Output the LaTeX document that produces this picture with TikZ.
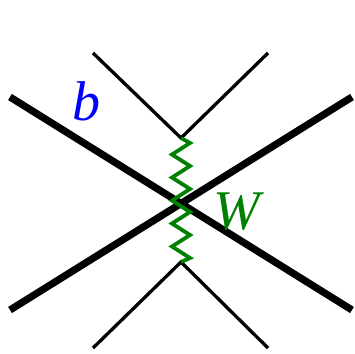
\documentclass[tikz,border=0pt]{standalone}
\usepackage{fontspec}
\setmainfont{Liberation Serif}
\usetikzlibrary{positioning}

\tikzset{
  fermion/.style={line width=7.2pt},
  leg/.style={line width=3.3pt},
  wboson/.style={line width=3.8pt, draw=green!50!black, line join=miter},
  biglabel/.style={inner sep=0pt, font=\fontsize{56}{60}\selectfont\itshape}
}

\begin{document}
\begin{tikzpicture}[x=1pt, y=-1pt]
  \useasboundingbox (0,0) rectangle (355,353);

  % Eckpunkte
  \coordinate (bin)  at (10,97);
  \coordinate (bout) at (352,310);
  \coordinate (cin)  at (10,310);
  \coordinate (cout) at (352,97);
  \coordinate (vt) at (181,138);
  \coordinate (vb) at (181,262);
  \coordinate (tl) at (93,53);
  \coordinate (tr) at (268,53);
  \coordinate (bl) at (93,348);
  \coordinate (br) at (268,348);

  % dicke Linien
  \draw[fermion] (bin) -- (bout);
  \draw[fermion] (cin) -- (cout);

  % duenne Linien
  \draw[leg] (tl) -- (vt) -- (tr);
  \draw[leg] (bl) -- (vb) -- (br);

  % W-Zickzack
  \draw[wboson] (vt)
    foreach \k [evaluate=\k as \dx using {9*(1-2*mod(\k,2))},
                evaluate=\k as \dy using {5+11.5*\k}] in {0,...,10}
      { -- ([shift={(\dx,\dy)}]vt) }
    -- (vb);

  % Beschriftung
  \node[biglabel, text=blue] (blab) at (86,101) {b};
  \node[biglabel, text=green!50!black] (wlab) at (237,212) {W};
\end{tikzpicture}
\end{document}
